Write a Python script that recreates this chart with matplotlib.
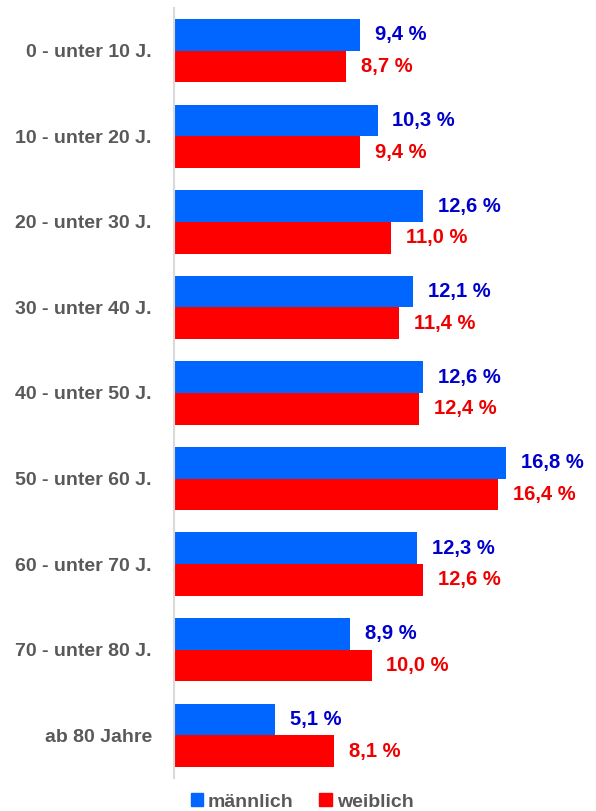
import matplotlib.pyplot as plt
from matplotlib.patches import Patch

plt.rcParams['font.family'] = ['Liberation Sans', 'DejaVu Sans']

# data
categories = ['0 - unter 10 J.', '10 - unter 20 J.', '20 - unter 30 J.', '30 - unter 40 J.',
              '40 - unter 50 J.', '50 - unter 60 J.', '60 - unter 70 J.', '70 - unter 80 J.',
              'ab 80 Jahre']
maennlich = [9.4, 10.3, 12.6, 12.1, 12.6, 16.8, 12.3, 8.9, 5.1]
weiblich = [8.7, 9.4, 11.0, 11.4, 12.4, 16.4, 12.6, 10.0, 8.1]

blue = '#0066FF'
red = '#FF0000'
blue_txt = '#0000CC'
red_txt = '#EE0000'
gray = '#595959'

fig = plt.figure(figsize=(5.96, 8.11), dpi=100)
ax = fig.add_axes([174 / 596, 33 / 811, 416 / 596, 770 / 811])

h = 0.37
y = list(range(len(categories)))
ax.barh([v - h / 2 for v in y], maennlich, height=h, color=blue, label='männlich')
ax.barh([v + h / 2 for v in y], weiblich, height=h, color=red, label='weiblich')

for i in y:
    ax.text(maennlich[i] + 0.75, i - h / 2, f'{maennlich[i]:.1f} %'.replace('.', ','),
            va='center', ha='left', color=blue_txt, fontsize=14.5, fontweight='bold')
    ax.text(weiblich[i] + 0.75, i + h / 2, f'{weiblich[i]:.1f} %'.replace('.', ','),
            va='center', ha='left', color=red_txt, fontsize=14.5, fontweight='bold')

ax.set_xlim(0, 416 / 19.76)
ax.set_ylim(len(categories) - 0.5, -0.5)
ax.set_yticks(y)
ax.set_yticklabels(categories, fontsize=14, fontweight='bold', color=gray)
ax.tick_params(axis='y', length=0, pad=16)
ax.set_xticks([])
for s in ['top', 'right', 'bottom']:
    ax.spines[s].set_visible(False)
ax.spines['left'].set_color('#D9D9D9')
ax.spines['left'].set_linewidth(1.5)

handles = [Patch(color=blue, label='männlich'), Patch(color=red, label='weiblich')]
leg = fig.legend(handles=handles, loc='center', bbox_to_anchor=(302 / 596, 1 - 802 / 811),
                 ncol=2, frameon=False, fontsize=14, handlelength=0.65, handleheight=0.65,
                 handletextpad=0.25, columnspacing=1.3)
for t in leg.get_texts():
    t.set_color(gray)
    t.set_fontweight('bold')

fig.savefig('out.png', dpi=100)
